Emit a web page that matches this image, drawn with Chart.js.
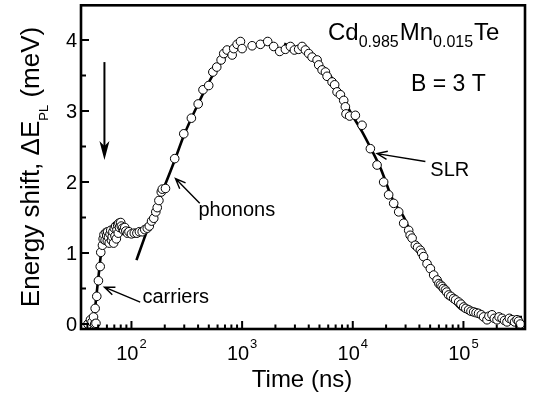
<!DOCTYPE html>
<html><head><meta charset="utf-8">
<script src="https://cdn.jsdelivr.net/npm/chart.js@4/dist/chart.umd.min.js"></script>
<style>html,body{margin:0;padding:0;background:#fff}#wrap{width:536px;height:401px}</style>
</head><body><div id="wrap"><canvas id="c" width="536" height="401"></canvas></div>
<script>
// ---- data (time in ns, energy shift in meV) ----
const timeNs = [40.5,42.6,44.0,45.4,46.5,47.0,47.8,48.6,50.3,52.2,52.8,54.7,55.5,56.5,57.8,59.0,59.8,60.5,61,62,63,64,65,66,67,68,69,70,71,72,73,74,75,76,77,78,80,81,83,85,87,89,92,95,100,106,112,118,125,132,139,145,152,159,166,171,177,186,190,203,246,297,348,401,443,499,544,590,646,682,732,813,840,901,966,1000,1231,1463,1703,1928,2186,2461,2731,2967,3243,3483,3731,3998,4290,4760,4920,5280,5660,5860,6500,6860,7210,7730,8280,8570,8690,9370,10550,12130,14420,16570,19010,21090,23430,26000,28840,32000,33000,34360,36750,38500,40810,42000,43650,46880,50230,53830,57790,60000,62000,64110,66000,68700,70500,73450,77000,81500,85000,90560,95000,100400,105000,111400,117000,123600,130000,137100,145000,152100,163300,170000,181200,190000,201200,210000,223200,235000,247600,260000,274700,290000,304800,315000,326600];
const shiftMeV = [0.00,0.06,0.03,0.10,0.00,0.22,0.01,0.39,0.61,0.81,1.01,1.11,1.20,1.26,1.18,1.29,1.24,1.17,1.30,1.22,1.14,1.27,1.32,1.18,1.23,1.30,1.14,1.35,1.24,1.38,1.20,1.33,1.40,1.28,1.42,1.36,1.43,1.38,1.35,1.32,1.36,1.31,1.28,1.30,1.27,1.28,1.28,1.30,1.30,1.33,1.35,1.38,1.45,1.49,1.58,1.64,1.74,1.86,1.90,1.91,2.33,2.68,2.90,3.10,3.30,3.36,3.55,3.62,3.72,3.81,3.86,3.79,3.88,3.94,3.98,3.88,3.92,3.94,3.98,3.91,3.84,3.87,3.91,3.86,3.87,3.91,3.86,3.81,3.76,3.72,3.65,3.58,3.55,3.49,3.41,3.37,3.27,3.23,3.15,3.06,2.96,2.93,2.94,2.80,2.47,2.24,2.00,1.82,1.70,1.58,1.42,1.32,1.25,1.21,1.11,1.08,1.04,1.00,0.95,0.85,0.78,0.69,0.62,0.57,0.55,0.53,0.50,0.48,0.45,0.41,0.39,0.36,0.34,0.31,0.28,0.24,0.22,0.20,0.18,0.17,0.16,0.15,0.13,0.10,0.06,0.11,0.13,0.08,0.06,0.10,0.08,0.05,0.03,0.08,0.06,0.03,0.06,0.04,0.00];

const carriersFitT = [42.5,44,46,47.5,49,51,53,55,57,60];
const carriersFitE = [-0.03,0.0,0.12,0.3,0.5,0.75,0.98,1.1,1.17,1.22];
const phononsFitT = [111,130,160,200,245,300,400,540,730,900];
const phononsFitE = [0.9,1.2,1.58,1.95,2.3,2.67,3.1,3.5,3.8,3.95];
const slrFitT = [2400,3200,4440,5500,6650,8000,9500,12130,14500,17770,23000,28840,38000,45000,53830,65000,75800,93000,120000,160000,200000,338000];
const slrFitE = [3.95,3.88,3.74,3.6,3.44,3.22,2.99,2.71,2.48,2.2,1.75,1.51,1.09,0.9,0.71,0.5,0.38,0.22,0.15,0.11,0.10,0.10];

// ---- axes / tick labels ----
const xMin = 35, xMax = 360000, yMin = -0.07, yMax = 4.49;
const xMajorTicks = [100, 1000, 10000, 100000];
const xTickExponents = ['2', '3', '4', '5'];
const xMinorMultipliers = [2,3,4,5,6,7,8,9];
const xMinorDecades = [10, 100, 1000, 10000, 100000];
const yMajorTicks = [0, 1, 2, 3, 4];
const yTickLabels = ['0', '1', '2', '3', '4'];
const yMinorTicks = [0.5, 1.5, 2.5, 3.5];

// ---- annotations (in data units) ----
const annotationTexts = ['carriers', 'phonons', 'SLR'];
const annotationAt = [[125.7, 0.296], [403, 1.52], [50200, 2.08]];
const arrowTips = [[57, 0.52], [250, 2.05], [16580, 2.40]];
const arrowTails = [[120, 0.31], [414, 1.70], [45300, 2.29]];
const bigArrow = [[57, 3.69], [57, 2.31]];

const FONT = '"Liberation Sans", Arial, Helvetica, sans-serif';
const pts = (T, E) => T.map((t, i) => ({x: t, y: E[i]}));

const decor = {
  id: 'decor',
  afterDatasetsDraw(chart) {
    const ctx = chart.ctx, a = chart.chartArea, xs = chart.scales.x, ys = chart.scales.y;
    const X = v => xs.getPixelForValue(v), Y = v => ys.getPixelForValue(v);
    ctx.save();
    ctx.strokeStyle = '#000'; ctx.fillStyle = '#000';
    // frame
    ctx.lineWidth = 2.6;
    ctx.strokeRect(a.left, a.top, a.right - a.left, a.bottom - a.top);
    // ticks
    ctx.lineWidth = 2;
    ctx.beginPath();
    xMajorTicks.forEach(v => { const p = X(v); ctx.moveTo(p, a.bottom); ctx.lineTo(p, a.bottom - 8); });
    xMinorDecades.forEach(d => xMinorMultipliers.forEach(m => {
      const v = d * m; if (v <= xMin || v >= xMax) return;
      const p = X(v); ctx.moveTo(p, a.bottom); ctx.lineTo(p, a.bottom - 4.5);
    }));
    yMajorTicks.forEach(v => { const p = Y(v); ctx.moveTo(a.left, p); ctx.lineTo(a.left + 8, p); });
    yMinorTicks.forEach(v => { const p = Y(v); ctx.moveTo(a.left, p); ctx.lineTo(a.left + 5, p); });
    ctx.stroke();
    // x tick labels 10^n
    xMajorTicks.forEach((v, i) => {
      const p = X(v);
      ctx.font = '20px ' + FONT; const w1 = ctx.measureText('10').width;
      ctx.font = '13px ' + FONT; const w2 = ctx.measureText(xTickExponents[i]).width;
      const x0 = p - (w1 + w2 + 1) / 2;
      ctx.textAlign = 'left'; ctx.textBaseline = 'alphabetic';
      ctx.font = '20px ' + FONT; ctx.fillText('10', x0, 360);
      ctx.font = '13px ' + FONT; ctx.fillText(xTickExponents[i], x0 + w1 + 1, 348);
    });
    // y tick labels
    ctx.font = '20px ' + FONT; ctx.textAlign = 'right'; ctx.textBaseline = 'middle';
    yMajorTicks.forEach((v, i) => ctx.fillText(yTickLabels[i], a.left - 4, Y(v) + 1));
    // x title
    ctx.font = '24px ' + FONT; ctx.textAlign = 'center'; ctx.textBaseline = 'alphabetic';
    ctx.fillText('Time (ns)', 302, 387);
    // y title (rotated, with subscript)
    ctx.save();
    ctx.translate(39, 167); ctx.rotate(-Math.PI / 2);
    ctx.textAlign = 'left';
    const p1 = 'Energy shift, \u0394E', p2 = 'PL', p3 = ' (meV)';
    ctx.font = '26px ' + FONT; const w1 = ctx.measureText(p1).width, w3 = ctx.measureText(p3).width;
    ctx.font = '13px ' + FONT; const w2 = ctx.measureText(p2).width;
    let sx = -(w1 + w2 + w3) / 2;
    ctx.font = '26px ' + FONT; ctx.fillText(p1, sx, 0); sx += w1;
    ctx.font = '13px ' + FONT; ctx.fillText(p2, sx, 9); sx += w2;
    ctx.font = '26px ' + FONT; ctx.fillText(p3, sx, 0);
    ctx.restore();
    // composition label
    ctx.textAlign = 'left'; ctx.textBaseline = 'alphabetic';
    const seg = [['Cd', 24, 0], ['0.985', 16, 7], ['Mn', 24, 0], ['0.015', 16, 7], ['Te', 24, 0]];
    let cx = 328;
    seg.forEach(s => { ctx.font = s[1] + 'px ' + FONT; ctx.fillText(s[0], cx, 40 + s[2]); cx += ctx.measureText(s[0]).width + (s[1] < 20 ? 1 : 0); });
    // B = 3 T
    ctx.font = '23px ' + FONT;
    ctx.fillText('B = 3 T', 411, 91);
    // annotation texts
    ctx.font = '20px ' + FONT;
    annotationTexts.forEach((t, i) => ctx.fillText(t, X(annotationAt[i][0]), Y(annotationAt[i][1])));
    // annotation arrows (open heads)
    ctx.lineWidth = 1.4;
    arrowTips.forEach((tip, i) => {
      const x1 = X(arrowTails[i][0]), y1 = Y(arrowTails[i][1]), x2 = X(tip[0]), y2 = Y(tip[1]);
      const ang = Math.atan2(y2 - y1, x2 - x1), L = 11, h = 0.38;
      ctx.beginPath();
      ctx.moveTo(x1, y1); ctx.lineTo(x2, y2);
      ctx.moveTo(x2 - L * Math.cos(ang - h), y2 - L * Math.sin(ang - h));
      ctx.lineTo(x2, y2);
      ctx.lineTo(x2 - L * Math.cos(ang + h), y2 - L * Math.sin(ang + h));
      ctx.stroke();
    });
    // big downward arrow
    const bx = X(bigArrow[0][0]), by1 = Y(bigArrow[0][1]), by2 = Y(bigArrow[1][1]);
    ctx.lineWidth = 2;
    ctx.beginPath(); ctx.moveTo(bx, by1); ctx.lineTo(bx, by2 - 8); ctx.stroke();
    ctx.beginPath();
    ctx.moveTo(bx, by2); ctx.lineTo(bx - 5, by2 - 19); ctx.lineTo(bx, by2 - 14); ctx.lineTo(bx + 5, by2 - 19); ctx.closePath();
    ctx.fill();
    ctx.restore();
  }
};

const lineStyle = {showLine: true, pointRadius: 0, borderColor: '#000', borderWidth: 2.6, cubicInterpolationMode: 'monotone', order: 1, clip: false};

new Chart(document.getElementById('c'), {
  type: 'scatter',
  data: {datasets: [
    {label: 'data', data: pts(timeNs, shiftMeV), pointRadius: 4.3, pointBackgroundColor: '#fff', pointBorderColor: '#000', pointBorderWidth: 1, showLine: false, order: 0, clip: false},
    Object.assign({label: 'carriers fit', data: pts(carriersFitT, carriersFitE)}, lineStyle),
    Object.assign({label: 'phonons fit', data: pts(phononsFitT, phononsFitE)}, lineStyle),
    Object.assign({label: 'SLR fit', data: pts(slrFitT, slrFitE)}, lineStyle)
  ]},
  options: {
    responsive: false, animation: false, events: [],
    plugins: {legend: {display: false}, tooltip: {enabled: false}},
    layout: {padding: {left: 81, right: 11, top: 5, bottom: 72}},
    scales: {
      x: {type: 'logarithmic', min: xMin, max: xMax, display: false},
      y: {type: 'linear', min: yMin, max: yMax, display: false}
    }
  },
  plugins: [decor]
});
</script></body></html>
